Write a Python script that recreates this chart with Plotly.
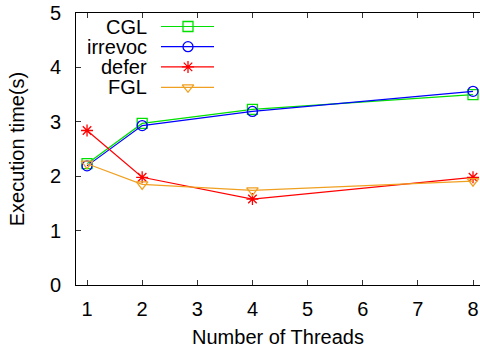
import plotly.graph_objects as go

threads = [1, 2, 4, 8]
cgl = [2.23, 2.97, 3.23, 3.50]
irrevoc = [2.19, 2.93, 3.19, 3.56]
defer = [2.84, 1.98, 1.58, 1.98]
fgl = [2.23, 1.85, 1.74, 1.91]

series = [
    ("CGL", cgl, "#00e000", "square-open"),
    ("irrevoc", irrevoc, "#0000ff", "circle-open"),
    ("defer", defer, "#ff0000", "asterisk-open"),
    ("FGL", fgl, "#f0a020", "triangle-down-open"),
]

FONT = "Liberation Sans, Arial, sans-serif"
FS = 20
fig = go.Figure()

for name, ys, color, sym in series:
    fig.add_trace(go.Scatter(
        x=threads, y=ys, mode="lines+markers", name=name,
        line=dict(color=color, width=1.2),
        marker=dict(symbol=sym, size=10, color=color, line=dict(color=color, width=1.3)),
        showlegend=False,
    ))

# custom legend (text left, sample right) on an overlay pixel-like axis
leg_rows = [26.5, 46.7, 66.9, 87.3]
for (name, ys, color, sym), yy in zip(series, leg_rows):
    fig.add_trace(go.Scatter(
        x=[161, 214], y=[yy, yy], mode="lines", xaxis="x2", yaxis="y2",
        line=dict(color=color, width=1.2), showlegend=False, hoverinfo="skip"))
    fig.add_trace(go.Scatter(
        x=[188], y=[yy], mode="markers", xaxis="x2", yaxis="y2",
        marker=dict(symbol=sym, size=10, color=color, line=dict(color=color, width=1.3)),
        showlegend=False, hoverinfo="skip"))
    fig.add_annotation(x=149, y=yy, xref="x2", yref="y2", text=name, showarrow=False,
                       xanchor="right", yanchor="middle",
                       font=dict(family=FONT, size=FS, color="black"))

fig.update_layout(
    width=480, height=350,
    margin=dict(l=76, r=0, t=13, b=65),
    paper_bgcolor="white", plot_bgcolor="white",
    font=dict(family=FONT, size=FS, color="black"),
    xaxis=dict(
        range=[0.8, 8.127], tickmode="array", tickvals=[1, 2, 3, 4, 5, 6, 7, 8],
        ticks="inside", ticklen=5, tickcolor="#333", showline=True, linecolor="black",
        linewidth=1, mirror="ticks", showgrid=False, zeroline=False,
        title=dict(text="Number of Threads", standoff=10, font=dict(size=FS)),
        tickfont=dict(size=FS), ticklabelstandoff=6,
    ),
    yaxis=dict(
        range=[0, 5], tickmode="array", tickvals=[0, 1, 2, 3, 4, 5],
        ticks="inside", ticklen=5, tickcolor="#333", showline=True, linecolor="black",
        linewidth=1, showgrid=False, zeroline=False,
        title=dict(text="Execution time(s)", standoff=19, font=dict(size=FS)),
        tickfont=dict(size=FS), ticklabelstandoff=10,
    ),
    xaxis2=dict(range=[76, 480], overlaying="x", visible=False, fixedrange=True),
    yaxis2=dict(range=[285, 13], overlaying="y", visible=False, fixedrange=True),
)

fig.write_html("out.html")
